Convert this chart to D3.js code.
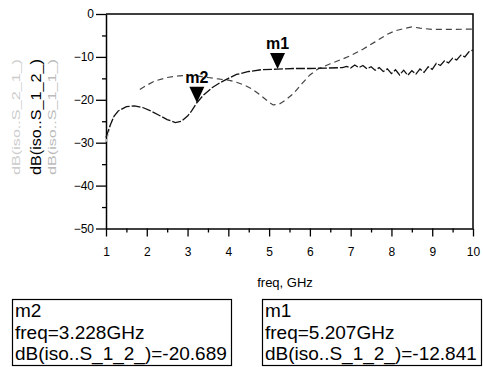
<!DOCTYPE html>
<html>
<head>
<meta charset="utf-8">
<script src="https://cdn.jsdelivr.net/npm/d3@7"></script>
<style>
  body { margin: 0; background: #fff; }
  text { font-family: "Liberation Sans", Arial, sans-serif; }
</style>
</head>
<body>
<div id="chart"></div>
<script>
const width = 483, height = 367;

// dB(iso..S_1_2_) - the traced curve with the markers
const s12Freq = [1.0, 1.1, 1.2, 1.3, 1.5, 1.7, 1.9, 2.1, 2.3, 2.5, 2.7, 2.85, 3.0, 3.1, 3.228, 3.4, 3.6, 3.8, 4.0, 4.2, 4.5, 4.8, 5.207, 5.6, 6.0, 6.4,
  6.8, 6.9, 7.0, 7.1, 7.2, 7.3, 7.4, 7.5, 7.6, 7.7, 7.8, 7.9, 8.0, 8.1, 8.2, 8.3, 8.4, 8.5, 8.6, 8.7, 8.8, 8.9, 9.0, 9.1, 9.2, 9.3, 9.4, 9.5, 9.6, 9.7, 9.8, 9.9, 10.0];
const s12dB = [-28.8, -26.0, -23.8, -22.6, -21.6, -21.4, -21.8, -22.6, -23.6, -24.6, -25.3, -25.0, -23.8, -22.6, -20.689, -18.8, -17.2, -16.0, -15.0, -14.1, -13.4, -13.0, -12.841, -12.7, -12.7, -12.6,
  -12.5, -12.2, -12.6, -11.9, -12.5, -12.0, -12.8, -12.3, -13.1, -12.5, -13.4, -12.8, -13.9, -13.0, -14.2, -13.1, -14.3, -13.2, -14.0, -12.8, -13.6, -12.3, -12.9, -11.5, -12.0, -10.9, -11.4, -10.3, -10.7, -9.6, -10.0, -8.8, -8.4];

// second trace (grey dashed)
const s11Freq = [1.83, 2.0, 2.2, 2.5, 2.8, 3.0, 3.2, 3.5, 3.8, 4.0, 4.2, 4.4, 4.6, 4.8, 5.0, 5.1, 5.25, 5.4, 5.6, 5.8, 6.0, 6.2, 6.5, 6.8, 7.0, 7.3, 7.6, 7.9, 8.1, 8.3, 8.5, 8.7, 9.0, 9.5, 10.0];
const s11dB = [-17.6, -16.6, -15.6, -14.8, -14.4, -14.3, -14.4, -14.8, -15.2, -15.4, -15.9, -16.6, -17.6, -19.0, -20.6, -21.2, -21.0, -20.1, -18.5, -16.3, -14.2, -12.8, -11.6, -10.5, -9.7, -8.2, -6.5, -4.7, -3.9, -3.4, -3.0, -3.3, -3.6, -3.6, -3.5];

// faint trace at the low end
const s21Freq = [1.0, 1.05, 1.1, 1.15, 1.22, 1.3];
const s21dB = [-29.8, -28.2, -26.3, -24.6, -23.4, -22.8];

const xTicks = [1, 2, 3, 4, 5, 6, 7, 8, 9, 10];
const yTicks = [-50, -40, -30, -20, -10, 0];

const markers = [
  { name: "m2", freq: 3.228, dB: -20.689 },
  { name: "m1", freq: 5.207, dB: -12.841 }
];

const traceLabels = ["dB(iso..S_2_1_)", "dB(iso..S_1_2_)", "dB(iso..S_1_1_)"];

const x = d3.scaleLinear().domain([1, 10]).range([106, 473]);
const y = d3.scaleLinear().domain([-50, 0]).range([228.5, 14]);

const svg = d3.select("#chart").append("svg")
    .attr("width", width)
    .attr("height", height);

// minor ticks
const xMinor = d3.range(1.5, 10, 1);
const yMinor = d3.range(-45, 0, 10);

svg.append("g")
    .attr("transform", "translate(0,228.5)")
    .call(d3.axisBottom(x).tickValues(xMinor).tickSize(4).tickFormat(""))
    .call(g => g.select(".domain").remove());
svg.append("g")
    .attr("transform", "translate(106,0)")
    .call(d3.axisLeft(y).tickValues(yMinor).tickSize(4).tickFormat(""))
    .call(g => g.select(".domain").remove());

const xAxis = svg.append("g")
    .attr("transform", "translate(0,228.5)")
    .call(d3.axisBottom(x).tickValues(xTicks).tickSize(8).tickPadding(11).tickSizeOuter(0));
xAxis.selectAll("text").attr("font-size", 12).attr("font-family", "Liberation Sans, Arial");

const yAxis = svg.append("g")
    .attr("transform", "translate(106,0)")
    .call(d3.axisLeft(y).tickValues(yTicks).tickSize(10).tickPadding(2).tickSizeOuter(0));
yAxis.selectAll("text").attr("font-size", 12).attr("font-family", "Liberation Sans, Arial");

svg.selectAll(".domain").attr("stroke-width", 1.5);
svg.selectAll(".tick line").attr("stroke-width", 1.3);

// frame top/right
svg.append("path")
    .attr("d", `M${x(1)},${y(0)}H${x(10)}V${y(-50)}`)
    .attr("fill", "none")
    .attr("stroke", "#000")
    .attr("stroke-width", 1.5);

const line = d3.line().x(d => x(d[0])).y(d => y(d[1]));

svg.append("path")
    .datum(d3.zip(s21Freq, s21dB))
    .attr("d", line)
    .attr("fill", "none")
    .attr("stroke", "#bbb")
    .attr("stroke-width", 1.2)
    .attr("stroke-dasharray", "3,2");

svg.append("path")
    .datum(d3.zip(s11Freq, s11dB))
    .attr("d", line)
    .attr("fill", "none")
    .attr("stroke", "#444")
    .attr("stroke-width", 1.2)
    .attr("stroke-dasharray", "6,4");

svg.append("path")
    .datum(d3.zip(s12Freq, s12dB))
    .attr("d", line)
    .attr("fill", "none")
    .attr("stroke", "#111")
    .attr("stroke-width", 1.3)
    .attr("stroke-dasharray", "9,2");

// markers
const mk = svg.append("g").selectAll("g")
    .data(markers)
    .enter()
    .append("g")
    .attr("transform", d => `translate(${x(d.freq)},${y(d.dB)})`);
mk.append("path")
    .attr("d", "M0,0L-7.5,-16L7.5,-16Z")
    .attr("fill", "#000");
mk.append("text")
    .attr("y", -20)
    .attr("text-anchor", "middle")
    .attr("font-size", 16)
    .attr("font-weight", "bold")
    .text(d => d.name);

// rotated trace labels
const labelX = [20, 41, 56];
const labelSize = [10, 14, 11];
const labelColor = ["#ccc", "#000", "#bbb"];
traceLabels.forEach((t, i) => {
  svg.append("text")
      .attr("transform", `translate(${labelX[i]},117) rotate(-90)`)
      .attr("text-anchor", "middle")
      .attr("font-size", labelSize[i])
      .attr("fill", labelColor[i])
      .attr("textLength", 116)
      .attr("lengthAdjust", "spacingAndGlyphs")
      .text(t);
});

svg.append("text")
    .attr("x", 285)
    .attr("y", 287)
    .attr("text-anchor", "middle")
    .attr("font-size", 13)
    .text("freq, GHz");

// marker readout boxes
const boxes = [
  { m: markers[0], x0: 12, x1: 232 },
  { m: markers[1], x0: 262, x1: 482 }
];
boxes.forEach(b => {
  const g = svg.append("g");
  g.append("rect")
      .attr("x", b.x0 + 0.5)
      .attr("y", 299.5)
      .attr("width", b.x1 - b.x0 - 1)
      .attr("height", 66)
      .attr("fill", "#fff")
      .attr("stroke", "#000")
      .attr("stroke-width", 1.2);
  const lines = [b.m.name, `freq=${b.m.freq.toFixed(3)}GHz`, `dB(iso..S_1_2_)=${b.m.dB.toFixed(3)}`];
  lines.forEach((t, i) => {
    g.append("text")
        .attr("x", b.x0 + 3)
        .attr("y", 317 + i * 21.5)
        .attr("font-size", 19)
        .text(t);
  });
});
</script>
</body>
</html>
